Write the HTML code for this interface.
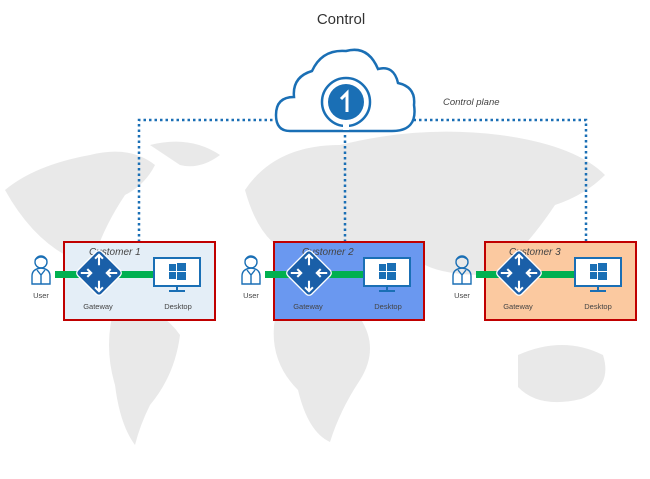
<!DOCTYPE html>
<html><head><style>
body{margin:0;width:650px;height:474px;background:#fff;overflow:hidden;font-family:"Liberation Sans",sans-serif}
</style></head><body>
<svg width="650" height="474" viewBox="0 0 650 474" xmlns="http://www.w3.org/2000/svg" font-family="Liberation Sans, sans-serif">
<defs>
<g id="user" fill="none" stroke="#1a6fb5" stroke-width="1.4">
<circle cx="0" cy="-8" r="6"/>
<path d="M-6,-10 q6,-6 12,0"/>
<path d="M-9,14 v-8 q0,-7 9,-8 q9,1 9,8 v8 z"/>
<path d="M-4,0 l4,5 l4,-5 M0,5 v9"/>
</g>
<g id="gw">
<g transform="scale(1.3)">
<rect x="-13" y="-13" width="26" height="26" rx="3" transform="rotate(45)" fill="#1a5fa8" stroke="#fff" stroke-width="1"/>
<g stroke="#fff" stroke-width="1.6" fill="none">
<path d="M0,-14 v8 M-3,-11 l3,-3 l3,3"/>
<path d="M0,14 v-8 M-3,11 l3,3 l3,-3"/>
<path d="M-14,0 h8 M-9,-3 l3,3 l-3,3"/>
<path d="M14,0 h-8 M9,-3 l-3,3 l3,3"/>
</g>
</g>
</g>
<g id="desk">
<rect x="0" y="0" width="46" height="28" fill="#fff" stroke="#1a6fb5" stroke-width="2"/>
<g fill="#1a6fb5"><rect x="15" y="6" width="7" height="7"/><rect x="23" y="5" width="9" height="8"/><rect x="15" y="14" width="7" height="7"/><rect x="23" y="14" width="9" height="8"/></g>
<path d="M23,28 v4 M15,33 h16" stroke="#1a6fb5" stroke-width="2"/>
</g>
</defs>
<!-- map -->
<g fill="#e9e9e9">
<path d="M5,190 q30,-25 85,-35 q40,-10 65,10 q-10,20 -30,30 q-20,30 -30,60 q20,20 40,40 q-20,10 -30,0 q-20,-30 -40,-40 q-35,-20 -60,-65z"/>
<path d="M150,145 q40,-10 70,10 q-20,15 -40,10z"/>
<path d="M115,305 q45,0 65,30 q-5,40 -30,70 q-10,20 -15,40 q-15,-20 -20,-60 q-12,-40 0,-80z"/>
<path d="M245,190 q30,-45 95,-45 q80,-20 160,-10 q75,10 105,40 q-20,20 -50,30 q-20,30 -40,50 q-10,20 -30,20 q-40,0 -60,-10 q-40,-10 -70,0 q-40,0 -60,-10 q-35,-10 -50,-65z"/>
<path d="M275,318 q45,-10 85,0 q20,30 0,62 q-20,30 -30,62 q-22,-10 -32,-52 q-30,-30 -23,-72z"/>
<path d="M518,355 q45,-20 85,0 q10,32 -22,44 q-42,10 -63,-12z"/>
</g>
<!-- dotted lines -->
<g stroke="#1a6fb5" stroke-width="2.5" stroke-dasharray="2.5 3" fill="none">
<path d="M139,242 V120 H280"/>
<path d="M408,120 H586 V242"/>
<path d="M345,135 V242"/>
</g>
<!-- cloud -->
<path d="M290,131 q-14,0 -14,-16 q0,-18 18,-18 q-2,-20 18,-26 q10,-22 34,-20 q22,-6 32,18 q16,-4 20,14 q18,4 16,22 q4,26 -22,26 z" fill="#fff" stroke="#1a6fb5" stroke-width="2.5"/>
<circle cx="346" cy="102" r="24" fill="none" stroke="#1a6fb5" stroke-width="2.5"/>
<circle cx="346" cy="102" r="18" fill="#1a6fb5"/>
<path d="M341,99 l6,-6 v19" stroke="#fff" stroke-width="3" fill="none"/>
<rect x="343" y="124" width="6" height="6" fill="#fff"/>
<text x="341" y="24" font-size="15" fill="#333" text-anchor="middle">Control</text>
<text x="443" y="105" font-size="9.5" font-style="italic" fill="#444">Control plane</text>
<!-- boxes -->
<g stroke="#c00000" stroke-width="2">
<rect x="64" y="242" width="151" height="78" fill="#e4eef7"/>
<rect x="274" y="242" width="150" height="78" fill="#6a98f0"/>
<rect x="485" y="242" width="151" height="78" fill="#fbc9a0"/>
</g>
<g font-size="10" font-style="italic" fill="#444">
<text x="89" y="255">Customer 1</text>
<text x="302" y="255">Customer 2</text>
<text x="509" y="255">Customer 3</text>
</g>
<g font-size="7.5" fill="#444" text-anchor="middle">
<text x="41" y="298">User</text><text x="98" y="309">Gateway</text><text x="178" y="309">Desktop</text>
<text x="251" y="298">User</text><text x="308" y="309">Gateway</text><text x="388" y="309">Desktop</text>
<text x="462" y="298">User</text><text x="518" y="309">Gateway</text><text x="598" y="309">Desktop</text>
</g>
<g fill="#00b050">
<rect x="55" y="271" width="100" height="7"/>
<rect x="265" y="271" width="100" height="7"/>
<rect x="476" y="271" width="100" height="7"/>
</g>
<use href="#user" x="41" y="270"/><use href="#user" x="251" y="270"/><use href="#user" x="462" y="270"/>
<use href="#gw" x="99" y="273"/><use href="#gw" x="309" y="273"/><use href="#gw" x="519" y="273"/>
<use href="#desk" x="154" y="258"/><use href="#desk" x="364" y="258"/><use href="#desk" x="575" y="258"/>
</svg>
</body></html>
